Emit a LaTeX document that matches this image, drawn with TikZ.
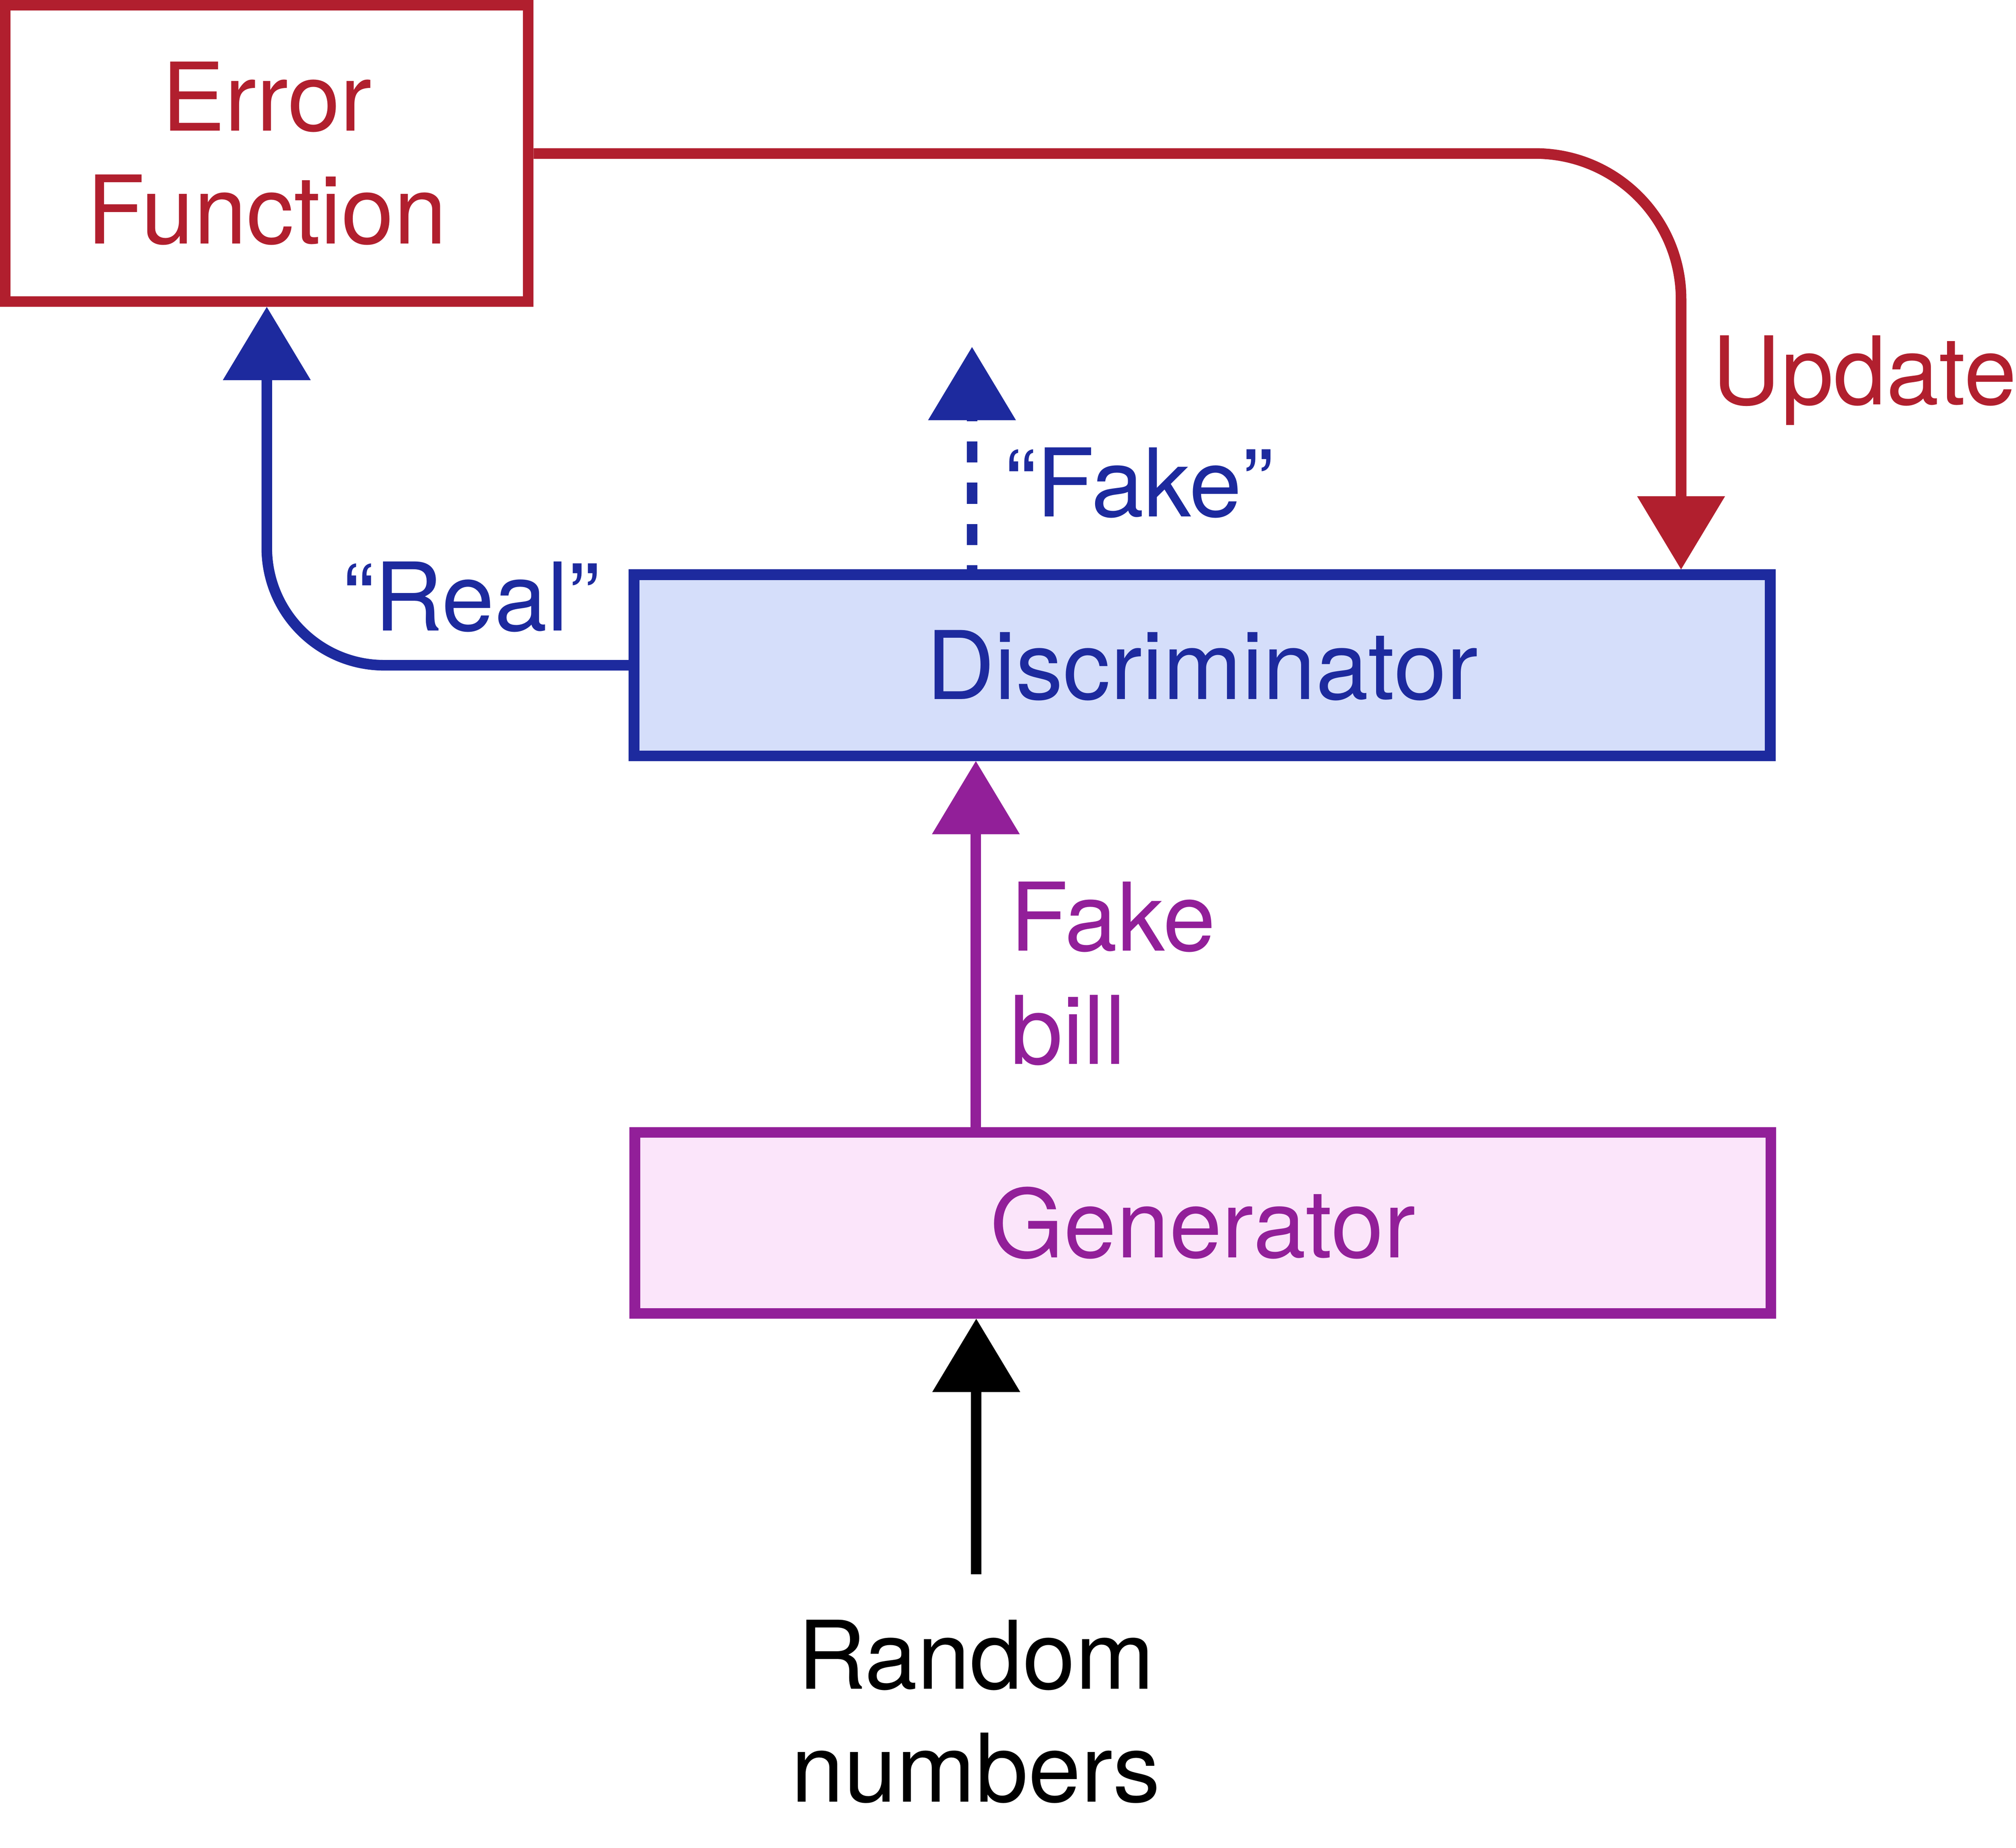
\documentclass[tikz,border=0pt]{standalone}
\usepackage{fontspec}
\setmainfont{TeX Gyre Heros}
\usetikzlibrary{arrows.meta}
\definecolor{cred}{RGB}{177,31,46}
\definecolor{cblue}{RGB}{29,42,158}
\definecolor{cpurple}{RGB}{146,31,153}
\definecolor{cltblue}{RGB}{213,222,250}
\definecolor{cpink}{RGB}{251,229,250}
\tikzset{
  lbl/.style={inner sep=0pt, font=\fontsize{25}{29.85}\selectfont},
  boxstyle/.style={draw, line width=2.8pt, inner sep=0pt, font=\fontsize{25}{29.85}\selectfont},
  conn/.style={line width=2.8pt, -{Triangle[length=19.3pt,width=23.2pt,line width=0pt]}},
}
\begin{document}
\begin{tikzpicture}[x=0.33922pt,y=-0.33922pt]
\useasboundingbox (0,0) rectangle (1568,1437.4);
% boxes
\node[boxstyle, cred, text=cred, minimum width=138pt, minimum height=78.2pt, align=center] (err) at (207.5,119.4) {Error\\Function};
\node[boxstyle, cblue, fill=cltblue, text=cblue, minimum width=299.8pt, minimum height=47.8pt] (disc) at (935,517.5) {Discriminator};
\node[boxstyle, cpurple, fill=cpink, text=cpurple, minimum width=299.7pt, minimum height=47.8pt] (gen) at (935.5,951.3) {Generator};
% labels
\node[lbl, text=cred, anchor=base west] (lupd) at (1331,314.6) {Update};
\node[lbl, text=cblue, anchor=base west] (lfake) at (781,402) {“Fake”};
\node[lbl, text=cblue, anchor=base west] (lreal) at (266,490.6) {“Real”};
\node[lbl, text=cpurple, anchor=west, align=left] (lbill) at (785,757.3) {Fake\\bill};
\node[lbl, text=black, align=center] (lrand) at (759,1331.4) {Random\\numbers};
% coordinates
\coordinate (cupd) at (1307.5,119.4);
\coordinate (cfake) at (756,270);
\coordinate (cmid) at (759,700);
\coordinate (crand) at (759.3,1224.6);
% connectors
\draw[conn, cred, rounded corners=38.5pt] (err.east) -- (cupd) -- (cupd |- disc.north);
\draw[conn, cblue, rounded corners=31pt] (disc.west) -- (disc.west -| err.south) -- (err.south);
\draw[conn, cblue, dash pattern=on 5.6pt off 5.3pt, dash phase=4.5pt] (disc.north -| cfake) -- (cfake);
\draw[conn, cpurple] (gen.north -| cmid) -- (disc.south -| cmid);
\draw[conn, black] (crand) -- (gen.south -| crand);
\end{tikzpicture}
\end{document}
